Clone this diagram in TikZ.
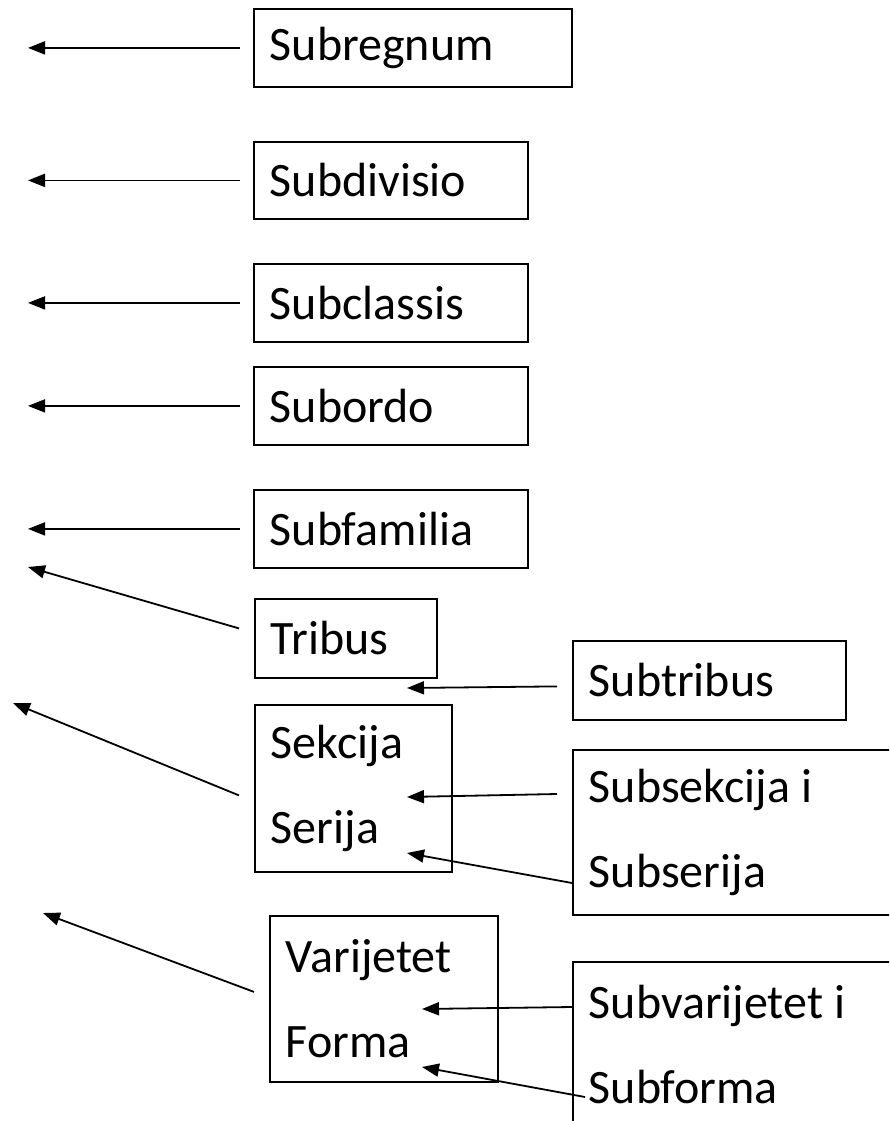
\documentclass[tikz,border=0pt]{standalone}
\usepackage{fontspec}
\setmainfont{Carlito}
\usepackage{tikz}
\usetikzlibrary{positioning,arrows.meta,calc}

\begin{document}
\begin{tikzpicture}[x=1pt, y=-1pt, line width=1.8pt]

    % Shapes
    \tikzstyle{taxon}=[rectangle, draw, anchor=north west, align=flush left, inner xsep=16pt, inner ysep=0pt, font=\fontsize{48pt}{85pt}\selectfont, text width=#1]
    \tikzstyle{arr}=[-{Triangle[length=17pt, width=13pt]}]

    \useasboundingbox (0,0) rectangle (889,1121);
    \clip (0,0) rectangle (889,1121);

    % Ranks
    \node[taxon=286pt, minimum height=78pt] at (253,8) (subregnum) {Subregnum};
    \node[taxon=242pt, minimum height=77pt] at (253,141) (subdivisio) {Subdivisio};
    \node[taxon=242pt, minimum height=78pt] at (253,263) (subclassis) {Subclassis};
    \node[taxon=242pt, minimum height=78pt] at (253,366) (subordo) {Subordo};
    \node[taxon=242pt, minimum height=78pt] at (253,489) (subfamilia) {Subfamilia};
    \node[taxon=150pt, minimum height=79pt] at (254,598) (tribus) {Tribus};
    \node[taxon=165pt, minimum height=167pt] at (254,704) (sekcija) {Sekcija\\Serija};
    \node[taxon=196pt, minimum height=166pt] at (269,915) (varijetet) {Varijetet\\Forma};

    % Sub-ranks
    \node[taxon=241pt, minimum height=79pt] at (572,640) (subtribus) {Subtribus};
    \node[taxon=308pt, minimum height=165pt] at (572,749) (subsekcija) {Subsekcija i\\Subserija};
    \node[taxon=308pt, minimum height=166pt] at (572,961) (subvarijetet) {Subvarijetet i\\Subforma};

    % Tips
    \coordinate (leftEdge) at (28,0);
    \coordinate (tTribus) at (28,567);
    \coordinate (tSekcija) at (13,703);
    \coordinate (tVarijetet) at (43,913);
    \coordinate (tSubtribus) at (407,688);
    \coordinate (tSubsekcija) at (407,797);
    \coordinate (tSubserija) at (407,853);
    \coordinate (tSubvarijetet) at (422,1009);
    \coordinate (tSubforma) at (422,1067);

    % Arrows
    \draw[arr, shorten <=13pt] (subregnum.west) -- (subregnum.west -| leftEdge);
    \draw[arr, shorten <=13pt] (subdivisio.west) -- (subdivisio.west -| leftEdge);
    \draw[arr, shorten <=13pt] (subclassis.west) -- (subclassis.west -| leftEdge);
    \draw[arr, shorten <=13pt] (subordo.west) -- (subordo.west -| leftEdge);
    \draw[arr, shorten <=13pt] (subfamilia.west) -- (subfamilia.west -| leftEdge);
    \draw[arr] ($(tribus.west)+(-15,-10)$) -- (tTribus);
    \draw[arr] ($(sekcija.west)+(-15,7)$) -- (tSekcija);
    \draw[arr] ($(varijetet.west)+(-15,-7)$) -- (tVarijetet);

    \draw[arr] ($(subtribus.west)+(-15,6)$) -- (tSubtribus);
    \draw[arr] ($(subsekcija.north west)+(-15,45)$) -- (tSubsekcija);
    \draw[arr] ($(subsekcija.north west)+(0,134)$) -- (tSubserija);
    \draw[arr] ($(subvarijetet.north west)+(0,46)$) -- (tSubvarijetet);
    \draw[arr] ($(subvarijetet.north west)+(13,136)$) -- (tSubforma);
\end{tikzpicture}
\end{document}
